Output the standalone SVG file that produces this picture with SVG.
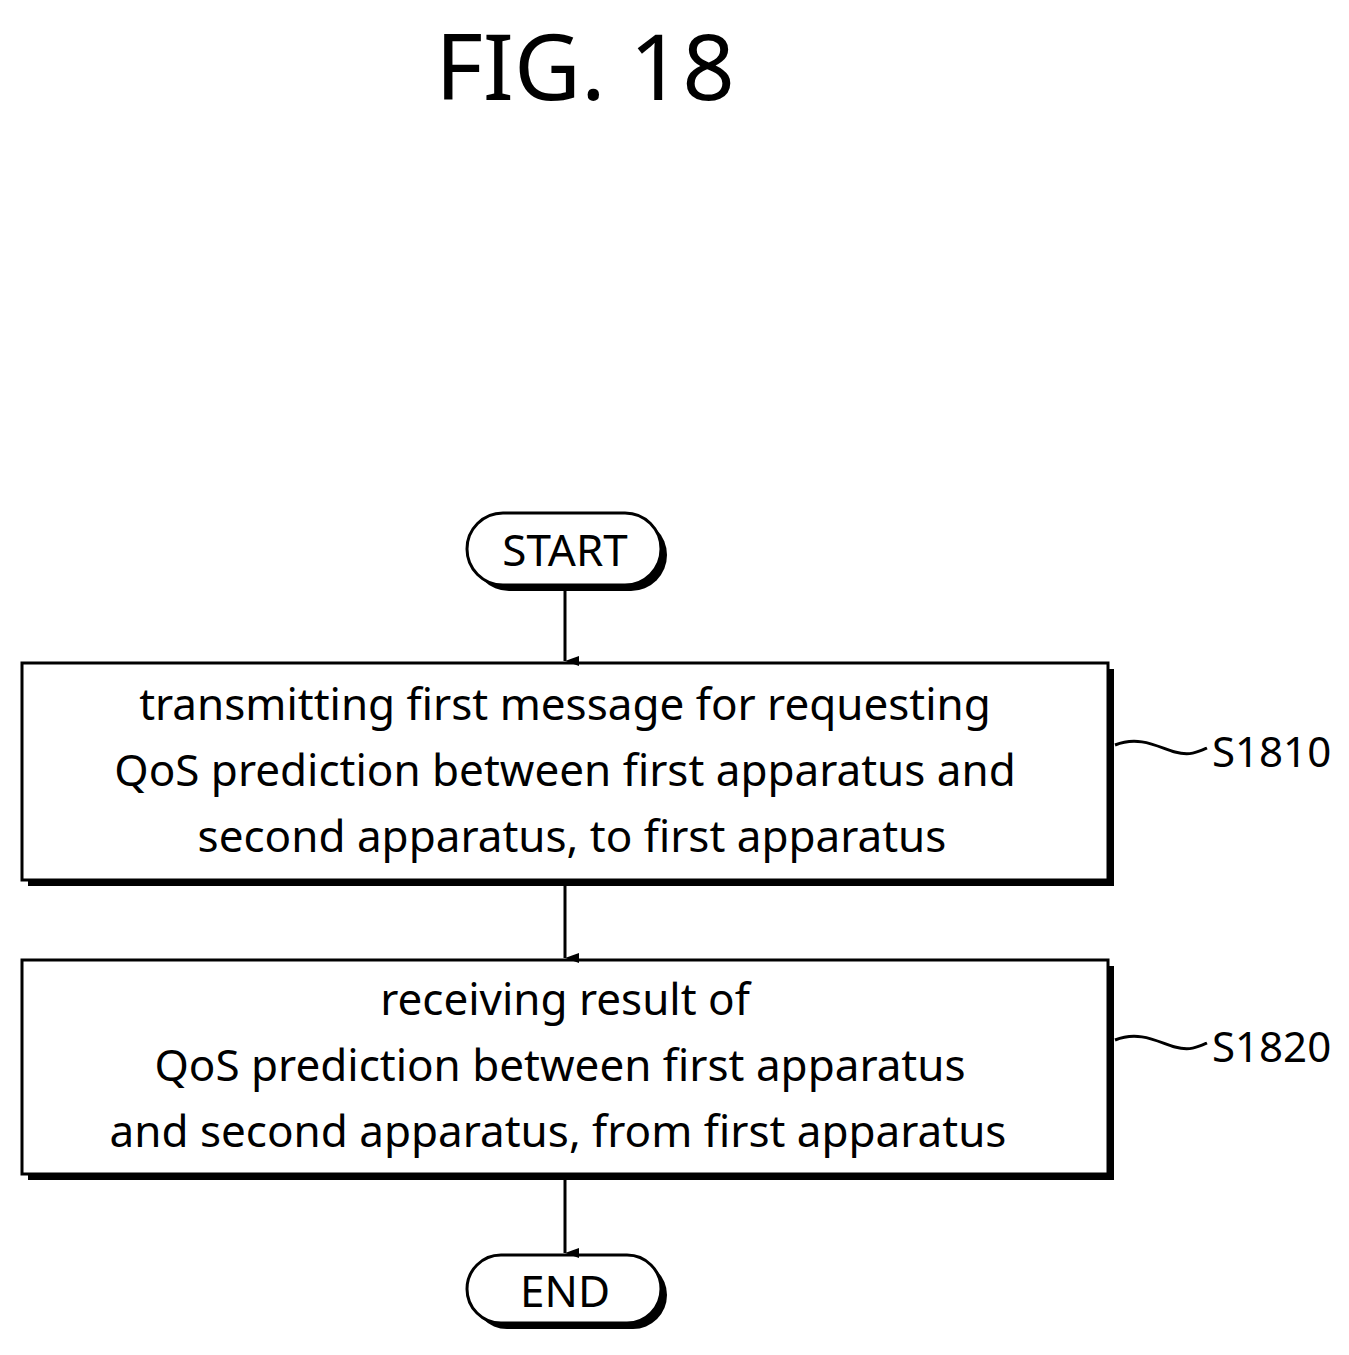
<svg xmlns="http://www.w3.org/2000/svg" width="1349" height="1355" viewBox="0 0 1349 1355">
<defs>
<style>
text{font-family:"Noto Sans","DejaVu Sans",sans-serif;fill:#000}
.t{font-size:44px;text-anchor:middle}
.b{fill:#fff;stroke:#000;stroke-width:3}
.s{fill:#000}
.c{stroke:#000;stroke-width:3;fill:none}
</style>
<marker id="a" markerWidth="10" markerHeight="14" refX="5" refY="14" orient="auto-start-reverse" markerUnits="userSpaceOnUse" viewBox="0 0 10 14"><path d="M0 0 L10 0 L5 14 Z" transform="rotate(0)"/></marker>
</defs>
<rect width="1349" height="1355" fill="#fff"/>
<text x="585" y="100" style="font-size:92px;text-anchor:middle">FIG. 18</text>
<g id="start">
<rect class="s" x="473" y="519" width="194" height="72" rx="36"/>
<rect class="b" x="467" y="513" width="194" height="72" rx="36"/>
<text class="t" x="565" y="566">START</text>
</g>
<g id="s1810">
<rect class="s" x="28" y="669" width="1086" height="217"/>
<rect class="b" x="22" y="663" width="1086" height="217"/>
<text class="t" x="565" y="720">transmitting first message for requesting</text>
<text class="t" x="565" y="786">QoS prediction between first apparatus and</text>
<text class="t" x="572" y="852">second apparatus, to first apparatus</text>
<path class="c" d="M1115 745 C1140 735,1160 748,1175 752 C1190 756,1198 752,1207 748"/>
<text x="1212" y="767" style="font-size:42px">S1810</text>
</g>
<g id="s1820">
<rect class="s" x="28" y="966" width="1086" height="214"/>
<rect class="b" x="22" y="960" width="1086" height="214"/>
<text class="t" x="565" y="1015">receiving result of</text>
<text class="t" x="560" y="1081">QoS prediction between first apparatus</text>
<text class="t" x="558" y="1147">and second apparatus, from first apparatus</text>
<path class="c" d="M1115 1040 C1140 1030,1160 1043,1175 1047 C1190 1051,1198 1047,1207 1043"/>
<text x="1212" y="1062" style="font-size:42px">S1820</text>
</g>
<g id="end">
<rect class="s" x="473" y="1261" width="194" height="68" rx="34"/>
<rect class="b" x="467" y="1255" width="194" height="68" rx="34"/>
<text class="t" x="565" y="1307">END</text>
</g>
<g id="connectors">
<line class="c" x1="565" y1="591" x2="565" y2="661" marker-end="url(#a)"/>
<line class="c" x1="565" y1="886" x2="565" y2="958" marker-end="url(#a)"/>
<line class="c" x1="565" y1="1180" x2="565" y2="1253" marker-end="url(#a)"/>
</g>
</svg>
